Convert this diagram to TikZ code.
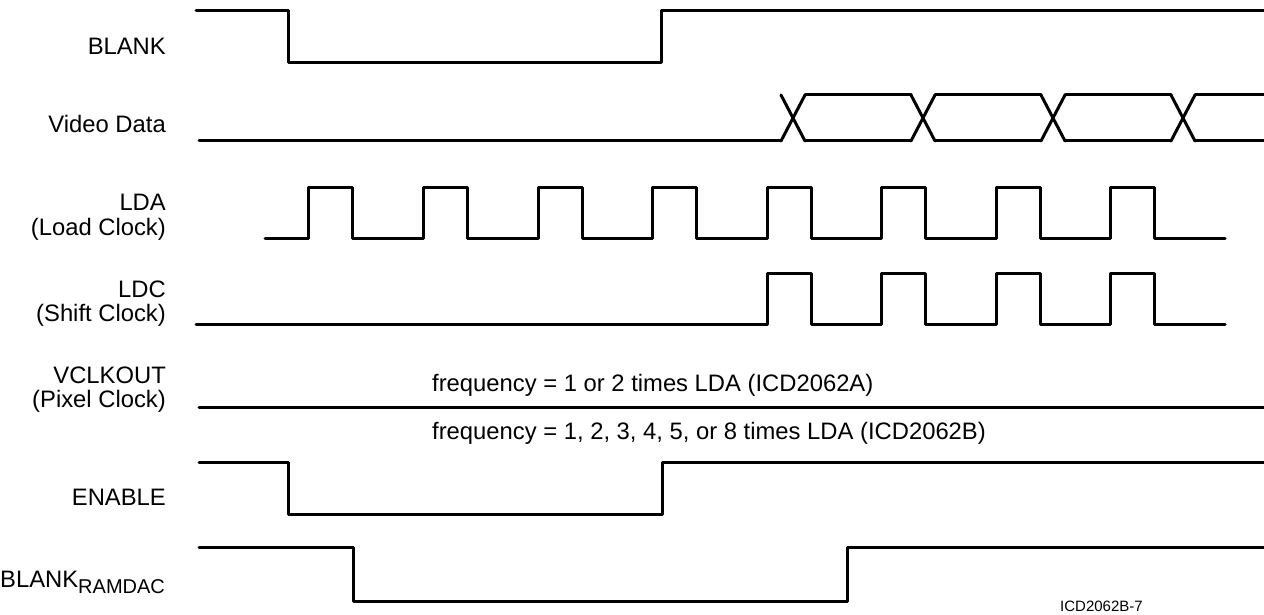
\documentclass[tikz,border=0pt]{standalone}
\usepackage{fontspec}
\setmainfont{Liberation Sans}
\begin{document}
\begin{tikzpicture}[x=1pt,y=-1pt,
  sig/.style={line width=3pt,line cap=round,line join=round},
  lbl/.style={anchor=base east,inner sep=0pt,font=\fontsize{23.8}{28}\selectfont},
  txt/.style={anchor=base west,inner sep=0pt,font=\fontsize{23.8}{28}\selectfont}]
\useasboundingbox (0,0) rectangle (1264,615);
% labels
\node[lbl] (lblank) at (166,55) {BLANK};
\node[lbl] (lvideo) at (166,133) {Video Data};
\node[lbl] (llda) at (166,211) {LDA};
\node[lbl] (llda2) at (166,235) {(Load Clock)};
\node[lbl] (lldc) at (166,297) {LDC};
\node[lbl] (lldc2) at (166,321) {(Shift Clock)};
\node[lbl] (lvclk) at (166,383) {VCLKOUT};
\node[lbl] (lvclk2) at (166,407) {(Pixel Clock)};
\node[lbl] (lenable) at (166,505) {ENABLE};
\node[txt] (lbr) at (0,587) {BLANK\raisebox{-6pt}{\fontsize{20}{20}\selectfont RAMDAC}};
\node[txt] (f1) at (432,391) {frequency = 1 or 2 times LDA (ICD2062A)};
\node[txt] (f2) at (432,439) {frequency = 1, 2, 3, 4, 5, or 8 times LDA (ICD2062B)};
\node[anchor=base west,inner sep=0pt,font=\fontsize{15}{18}\selectfont] (fig) at (1060,611) {ICD2062B-7};
% BLANK
\draw[sig] (196,11) -- (288,11) -- (288,63) -- (661,63) -- (661,11) -- (1264,11);
% Video data
\draw[sig] (199,141) -- (781,141);
\foreach \c in {793,923,1053,1183}{
  \draw[sig] (\c-12,95) -- (\c+12,141);
  \draw[sig] (\c-12,141) -- (\c+12,95);
}
\foreach \a/\b in {805/911,935/1041,1065/1171}{
  \draw[sig] (\a,95) -- (\b,95);
  \draw[sig] (\a,141) -- (\b,141);
}
\draw[sig] (1195,95) -- (1264,95);
\draw[sig] (1195,141) -- (1264,141);
% LDA
\draw[sig] (265,238)
  \foreach \r in {308,423,538,652,767,881,996,1110}{ -- (\r,238) -- (\r,187) -- (\r+44,187) -- (\r+44,238) }
  -- (1225,238);
% LDC
\draw[sig] (196,324)
  \foreach \r in {767,881,996,1110}{ -- (\r,324) -- (\r,273) -- (\r+44,273) -- (\r+44,324) }
  -- (1225,324);
% VCLKOUT
\draw[sig] (199,407) -- (1264,407);
% ENABLE
\draw[sig] (199,462) -- (288,462) -- (288,514) -- (662,514) -- (662,462) -- (1264,462);
% BLANK RAMDAC
\draw[sig] (199,547) -- (353,547) -- (353,601) -- (847,601) -- (847,547) -- (1264,547);
\end{tikzpicture}
\end{document}
